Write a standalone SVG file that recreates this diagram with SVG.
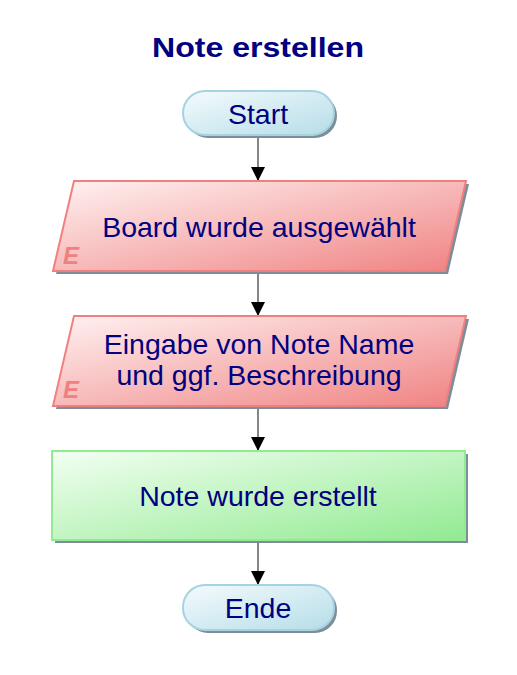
<svg xmlns="http://www.w3.org/2000/svg" width="517" height="675" viewBox="0 0 517 675">
<defs>
<linearGradient id="gBlue" x1="0" y1="0" x2="1" y2="1"><stop offset="0" stop-color="#f4fbfd"/><stop offset="1" stop-color="#b6dde8"/></linearGradient>
<linearGradient id="gRed" x1="0" y1="0" x2="1" y2="1"><stop offset="0" stop-color="#fff2f2"/><stop offset="1" stop-color="#f08282"/></linearGradient>
<linearGradient id="gGreen" x1="0" y1="0" x2="1" y2="1"><stop offset="0" stop-color="#f2fff2"/><stop offset="1" stop-color="#92ea92"/></linearGradient>
<marker id="arr" markerWidth="14" markerHeight="14" refX="14" refY="7" orient="auto" markerUnits="userSpaceOnUse" viewBox="0 0 14 14"><path d="M0,0 L14,7 L0,14 Z" fill="#000"/></marker>
</defs>
<style>
.t{font-family:"Liberation Sans",Arial,sans-serif;font-size:28.5px;fill:#000080;text-anchor:middle}
.e{font-family:"Liberation Sans",Arial,sans-serif;font-size:24px;font-weight:bold;font-style:italic;fill:#f08080}
.sh{fill:#7f8c99}
.c{stroke:#444;stroke-width:1.3;fill:none}
</style>
<rect width="517" height="675" fill="#fff"/>
<text x="258" y="57" class="t" style="font-weight:bold" textLength="212" lengthAdjust="spacingAndGlyphs">Note erstellen</text>
<g id="connectors">
<line class="c" x1="258" y1="135" x2="258" y2="181" marker-end="url(#arr)"/>
<line class="c" x1="258" y1="271" x2="258" y2="316" marker-end="url(#arr)"/>
<line class="c" x1="258" y1="406" x2="258" y2="451" marker-end="url(#arr)"/>
<line class="c" x1="258" y1="540" x2="258" y2="585" marker-end="url(#arr)"/>
</g>
<g id="start">
<rect class="sh" x="186" y="94" width="151" height="44" rx="22"/>
<rect x="183" y="91" width="151" height="44" rx="22" fill="url(#gBlue)" stroke="#a6d3e2" stroke-width="2"/>
<text x="258" y="124" class="t">Start</text>
</g>
<g id="board">
<polygon class="sh" points="77,184 469,184 448,274 56,274"/>
<polygon points="74,181 466,181 445,271 53,271" fill="url(#gRed)" stroke="#f08080" stroke-width="2"/>
<text x="63" y="264" class="e">E</text>
<text x="259" y="237" class="t">Board wurde ausgewählt</text>
</g>
<g id="eingabe">
<polygon class="sh" points="77,319 469,319 448,409 56,409"/>
<polygon points="74,316 466,316 445,406 53,406" fill="url(#gRed)" stroke="#f08080" stroke-width="2"/>
<text x="63" y="398" class="e">E</text>
<text x="259" y="354" class="t">Eingabe von Note Name</text>
<text x="259" y="385" class="t">und ggf. Beschreibung</text>
</g>
<g id="erstellt">
<rect class="sh" x="55" y="454" width="413" height="89"/>
<rect x="52" y="451" width="413" height="89" fill="url(#gGreen)" stroke="#92ea92" stroke-width="2"/>
<text x="258" y="506" class="t">Note wurde erstellt</text>
</g>
<g id="ende">
<rect class="sh" x="186" y="588" width="151" height="45" rx="22"/>
<rect x="183" y="585" width="151" height="45" rx="22" fill="url(#gBlue)" stroke="#a6d3e2" stroke-width="2"/>
<text x="258" y="618" class="t">Ende</text>
</g>
</svg>
